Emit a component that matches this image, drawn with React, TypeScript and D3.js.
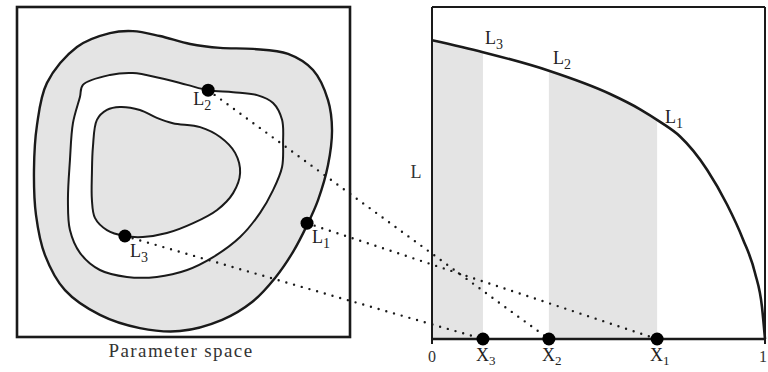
import React from 'react';
import * as d3 from 'd3';

// Right panel: the curve L(X)
const curveX = [0, 0.153, 0.351, 0.535, 0.625, 0.685, 0.745, 0.826, 0.886, 0.934, 0.97, 0.991, 1];
const curveL = [0.9, 0.864, 0.808, 0.738, 0.692, 0.654, 0.61, 0.51, 0.405, 0.3, 0.199, 0.096, 0];

// Points 1, 2, 3
const pointNames = ['1', '2', '3'];
const pointX = [0.676, 0.351, 0.153];
const paramPoints: [number, number][] = [
  [87.1, 65.5],
  [57.4, 25.2],
  [32.4, 69.4],
];

// Left panel: contours of L in parameter space (units 0..100)
const outerContour: [number, number][] = [
  [9.0, 23.0], [18.0, 12.1], [27.9, 7.9], [34.8, 7.3], [42.9, 8.8], [52.0, 11.2],
  [61.0, 12.4], [70.9, 12.7], [81.4, 14.2], [88.9, 19.1], [93.4, 28.2], [94.6, 37.3],
  [93.4, 47.9], [90.4, 58.5], [87.1, 66.1], [82.9, 74.2], [77.5, 82.1], [70.6, 89.4],
  [61.6, 94.8], [48.9, 98.2], [36.9, 97.3], [24.9, 93.3], [14.4, 85.8], [8.4, 75.2],
  [5.7, 63.0], [5.1, 49.4], [6.0, 35.8],
];
const middleContour: [number, number][] = [
  [19.8, 23.6], [27.9, 20.6], [34.8, 20.0], [42.9, 21.5], [51.1, 23.6], [57.4, 25.2],
  [64.9, 25.8], [72.1, 26.7], [76.9, 29.1], [79.6, 34.2], [79.9, 41.2], [79.6, 48.5],
  [76.9, 55.5], [73.0, 62.4], [67.0, 69.7], [58.9, 75.8], [51.1, 79.7], [42.0, 81.8],
  [33.0, 81.8], [24.9, 79.7], [18.9, 74.5], [15.9, 67.6], [15.3, 58.5], [15.9, 46.4],
  [16.8, 35.2], [18.9, 27.3],
];
const innerContour: [number, number][] = [
  [24.0, 34.2], [27.0, 31.2], [30.9, 30.3], [36.9, 31.2], [42.0, 33.6], [46.8, 35.2],
  [55.0, 36.4], [61.0, 39.4], [65.5, 44.2], [67.0, 50.3], [64.9, 56.4], [60.1, 61.5],
  [52.9, 65.5], [45.0, 68.5], [37.8, 69.7], [32.4, 69.4], [27.0, 67.6], [23.4, 63.9],
  [22.5, 58.5], [22.5, 50.3], [22.8, 42.4],
];

const xTickValues = [0, 1];
const xTickLabels = ['0', '1'];
const yAxisLabel = 'L';
const panelTitle = 'Parameter space';

const FONT = '"Liberation Serif", "DejaVu Serif", serif';
const INK = '#1a1a1a';
const SHADE = '#e4e4e4';

export default function App() {
  const W = 768;
  const H = 372;
  const x = d3.scaleLinear().domain([0, 1]).range([432, 765]);
  const y = d3.scaleLinear().domain([0, 1]).range([339, 7]);
  const px = d3.scaleLinear().domain([0, 100]).range([17, 350]);
  const py = d3.scaleLinear().domain([0, 100]).range([7, 337]);

  const closed = d3
    .line<[number, number]>()
    .x((d) => px(d[0]))
    .y((d) => py(d[1]))
    .curve(d3.curveCatmullRomClosed.alpha(0.5));

  const curveData: [number, number][] = curveX.map((v, i) => [v, curveL[i]]);
  const curveLine = d3
    .line<[number, number]>()
    .x((d) => x(d[0]))
    .y((d) => y(d[1]))
    .curve(d3.curveMonotoneX);
  const curveArea = d3
    .area<[number, number]>()
    .x((d) => x(d[0]))
    .y0(y(0))
    .y1((d) => y(d[1]))
    .curve(d3.curveMonotoneX);

  const bands: [number, number][] = [
    [0, pointX[2]],
    [pointX[1], pointX[0]],
  ];

  const interp = (v: number) => {
    for (let i = 0; i < curveX.length - 1; i++) {
      if (v >= curveX[i] && v <= curveX[i + 1]) {
        const t = (v - curveX[i]) / (curveX[i + 1] - curveX[i]);
        return curveL[i] + t * (curveL[i + 1] - curveL[i]);
      }
    }
    return 0;
  };

  const curveLabelOffsets = [
    [8, 3],
    [4, -7],
    [2, -8],
  ];
  const paramLabelOffsets = [
    [5, 20],
    [-15, 15],
    [5, 21],
  ];

  return (
    <svg
      width={W}
      height={H}
      viewBox={`0 0 ${W} ${H}`}
      style={{ position: 'absolute', left: 0, top: 0, background: '#fff' }}
    >
      <defs>
        <clipPath id="underCurve">
          <path d={curveArea(curveData) || ''} />
        </clipPath>
      </defs>

      {/* Left panel */}
      <path d={closed(outerContour) || ''} fill={SHADE} stroke={INK} strokeWidth={2.4} />
      <path d={closed(middleContour) || ''} fill="#fff" stroke={INK} strokeWidth={2} />
      <path d={closed(innerContour) || ''} fill={SHADE} stroke={INK} strokeWidth={2} />
      <rect
        x={px(0)}
        y={py(0)}
        width={px(100) - px(0)}
        height={py(100) - py(0)}
        fill="none"
        stroke={INK}
        strokeWidth={2.6}
      />
      <text x={181} y={357} fontFamily={FONT} fontSize={19} fill="#333" textAnchor="middle" letterSpacing={1.4}>
        {panelTitle}
      </text>

      {/* Right panel */}
      <g clipPath="url(#underCurve)">
        {bands.map((b, i) => (
          <rect key={i} x={x(b[0])} y={y(1)} width={x(b[1]) - x(b[0])} height={y(0) - y(1)} fill={SHADE} />
        ))}
      </g>
      <path d={curveLine(curveData) || ''} fill="none" stroke={INK} strokeWidth={2.6} />
      <line x1={x(0)} y1={y(1)} x2={x(1)} y2={y(1)} stroke={INK} strokeWidth={2} />
      <line x1={x(1)} y1={y(1)} x2={x(1)} y2={y(0)} stroke={INK} strokeWidth={2} />
      <line x1={x(0)} y1={y(1)} x2={x(0)} y2={y(0) + 5} stroke={INK} strokeWidth={2} />
      <line x1={x(0)} y1={y(0)} x2={x(1)} y2={y(0)} stroke={INK} strokeWidth={2.6} />
      <line x1={x(1)} y1={y(0)} x2={x(1)} y2={y(0) + 5} stroke={INK} strokeWidth={2} />
      <text x={416} y={178} fontFamily={FONT} fontSize={18} fill="#333" textAnchor="middle">
        {yAxisLabel}
      </text>
      {xTickValues.map((v, i) => (
        <text key={i} x={x(v) - (i === 1 ? 2 : 0)} y={362} fontFamily={FONT} fontSize={16} fill="#333" textAnchor="middle">
          {xTickLabels[i]}
        </text>
      ))}

      {/* Dotted connectors */}
      {pointX.map((v, i) => (
        <line
          key={i}
          x1={px(paramPoints[i][0])}
          y1={py(paramPoints[i][1])}
          x2={x(v)}
          y2={y(0)}
          stroke={INK}
          strokeWidth={2.4}
          strokeDasharray="0 8"
          strokeLinecap="round"
        />
      ))}

      {/* Dots */}
      {paramPoints.map((p, i) => (
        <circle key={'p' + i} cx={px(p[0])} cy={py(p[1])} r={6.5} fill="#000" />
      ))}
      {pointX.map((v, i) => (
        <circle key={'x' + i} cx={x(v)} cy={y(0)} r={6.5} fill="#000" />
      ))}

      {/* Labels */}
      {pointNames.map((n, i) => (
        <g key={'lab' + i} fontFamily={FONT} fill="#222">
          <text x={px(paramPoints[i][0]) + paramLabelOffsets[i][0]} y={py(paramPoints[i][1]) + paramLabelOffsets[i][1]} fontSize={18}>
            L<tspan dy={5} fontSize={14}>{n}</tspan>
          </text>
          <text x={x(pointX[i]) + curveLabelOffsets[i][0]} y={y(interp(pointX[i])) + curveLabelOffsets[i][1]} fontSize={18}>
            L<tspan dy={5} fontSize={14}>{n}</tspan>
          </text>
          <text x={x(pointX[i]) - 7} y={361} fontSize={18}>
            X<tspan dy={4} fontSize={13}>{n}</tspan>
          </text>
        </g>
      ))}
    </svg>
  );
}
